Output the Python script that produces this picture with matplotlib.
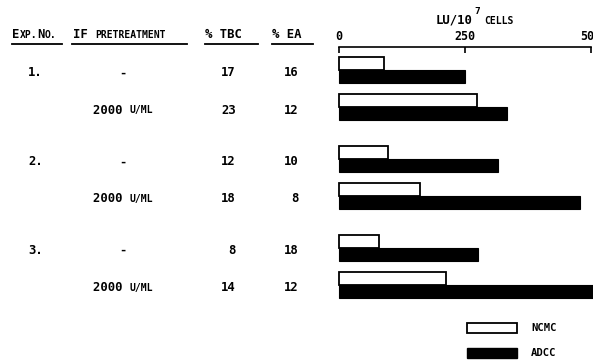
import matplotlib
matplotlib.use("Agg")
import matplotlib.pyplot as plt
from matplotlib.offsetbox import TextArea, HPacker, AnnotationBbox
from matplotlib.patches import Rectangle

# ---- data -------------------------------------------------------------
experiments = ["1.", "2.", "3."]
pretreatment = ["-", "2000 u/ml"]
tbc_pct = [17, 23, 12, 18, 8, 14]
ea_pct = [16, 12, 10, 8, 18, 12]
ncmc_lu = [90, 273, 97, 161, 79, 212]
adcc_lu = [250, 333, 315, 478, 276, 505]
x_ticks = [0, 250, 500]

W, H = 593, 361
FONT = ["DejaVu Sans Mono"]
BIG = 8.8
SMALL = 7.0

fig = plt.figure(figsize=(W / 100, H / 100), dpi=100)

# overlay in pixel units for the table text
ov = fig.add_axes([0, 0, 1, 1])
ov.set_xlim(0, W)
ov.set_ylim(H, 0)
ov.axis("off")


def txt(x, y, s, ha="left", size=BIG):
    ov.text(x, y, s, ha=ha, va="center", fontsize=size, family=FONT,
            fontweight="bold", color="black")


def smallcaps(x, y, parts, box=(0, 0.5)):
    """parts: list of (string, is_big)"""
    kids = []
    for s, big in parts:
        kids.append(TextArea(s if big else s.upper(),
                             textprops=dict(fontsize=BIG if big else SMALL,
                                            family=FONT, fontweight="bold",
                                            color="black")))
    pack = HPacker(children=kids, pad=0, sep=0, align="baseline")
    ab = AnnotationBbox(pack, (x, y), xycoords="data", box_alignment=box,
                        frameon=False, pad=0)
    ov.add_artist(ab)


# header
header_y = 34
smallcaps(12, header_y, [("E", True), ("xp.", False), ("N", True), ("o.", False)])
smallcaps(73, header_y, [("IF ", True), ("pretreatment", False)])
txt(205, header_y, "% TBC")
txt(272, header_y, "% EA")
for x0, x1 in [(12, 62), (72, 187), (205, 258), (272, 313)]:
    ov.plot([x0, x1], [44, 44], color="black", lw=1.3)

# row layout
unit = 37.0
row_off = [0, 1, 2.4, 3.4, 4.8, 5.8]
row0 = 73

for i, off in enumerate(row_off):
    y = row0 + off * unit
    if i % 2 == 0:
        txt(28, y, experiments[i // 2])
        txt(123, y, pretreatment[0], ha="center")
    else:
        smallcaps(93, y, [("2000 ", True), ("u/ml", False)])
    txt(236, y, str(tbc_pct[i]), ha="right")
    txt(299, y, str(ea_pct[i]), ha="right")

# ---- bar panel --------------------------------------------------------
left, right = 339, 591
top, bottom = 47, 300
ax = fig.add_axes([left / W, 1 - bottom / H, (right - left) / W, (bottom - top) / H])
ax.set_xlim(0, 500)
ax.set_ylim(5.8 + 15 / unit, -23 / unit)

bh = 0.34
ax.barh([r - bh for r in row_off], ncmc_lu, height=bh, align="edge",
        color="white", edgecolor="black", linewidth=1.3, clip_on=False,
        label="NCMC")
ax.barh(row_off, adcc_lu, height=bh + 0.02, align="edge",
        color="black", edgecolor="black", linewidth=0.8, clip_on=False,
        label="ADCC")

for s in ["left", "right", "bottom"]:
    ax.spines[s].set_visible(False)
ax.spines["top"].set_linewidth(1.2)
ax.xaxis.tick_top()
ax.set_xticks(x_ticks)
ax.set_xticklabels([str(t) for t in x_ticks], fontsize=8.4, family=FONT,
                   fontweight="bold")
ax.tick_params(axis="x", direction="in", length=4, width=1.2, pad=3)
ax.set_yticks([])
ax.patch.set_alpha(0)

# unit label above the axis
smallcaps(436, 20, [("LU/10", True)])
ov.text(474, 11, "7", fontsize=6.8, family=FONT, fontweight="bold", va="center")
smallcaps(484, 21, [("cells", False)])

# legend keys
ov.add_patch(Rectangle((467, 323), 50, 10, facecolor="white",
                       edgecolor="black", lw=1.3))
ov.add_patch(Rectangle((467, 348), 50, 10, facecolor="black",
                       edgecolor="black", lw=1.0))
txt(531, 328, "NCMC", size=7.6)
txt(531, 353, "ADCC", size=7.6)

fig.savefig("out.png", dpi=100)
